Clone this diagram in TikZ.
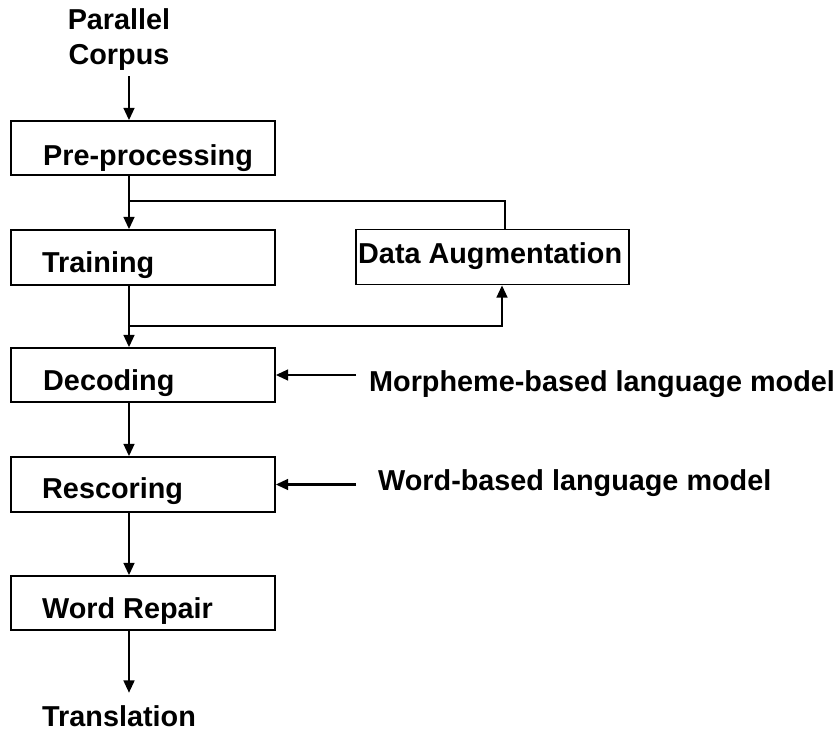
\documentclass[tikz,border=0pt]{standalone}
\usepackage{fontspec}
\setmainfont{Liberation Sans}
\usetikzlibrary{arrows.meta,calc}
\tikzset{
  stagebox/.style={draw=black, line width=1.3pt, inner sep=0pt, minimum width=264pt},
  lbl/.style={inner sep=0pt, anchor=base west, font=\fontsize{28.8}{35}\selectfont\bfseries},
  link/.style={line width=2.9pt},
  arr/.style={link, -{Triangle[width=10.5pt,length=12.5pt]}}
}
\begin{document}
\begin{tikzpicture}[x=1pt,y=-1pt]
\useasboundingbox (0,0) rectangle (840,731);
\fill[white] (0,0) rectangle (840,731);
\coordinate (sp) at (129,0);
% boxes
\node[stagebox, minimum height=54pt] (pre)  at (143,148) {};
\node[stagebox, minimum height=55pt] (train) at (143,257.5) {};
\node[stagebox, minimum height=55pt, minimum width=273pt] (aug) at (492.5,257) {};
\node[stagebox, minimum height=54pt] (dec)  at (143,375) {};
\node[stagebox, minimum height=55pt] (resc) at (143,484.5) {};
\node[stagebox, minimum height=54pt] (wrep) at (143,603) {};
% texts
\node[inner sep=0pt, align=center, font=\fontsize{28.8}{35}\selectfont\bfseries] (corpus) at (119,40) {Parallel\\Corpus};
\node[lbl] (tpre) at (43,165) {Pre-processing};
\node[lbl] (ttrain) at (42,272) {Training};
\node[lbl] (taug) at (358,263) {Data Augmentation};
\node[lbl] (tdec) at (43,390) {Decoding};
\node[lbl] (tresc) at (42,498) {Rescoring};
\node[lbl] (twrep) at (42,618) {Word Repair};
\node[lbl] (trans) at (42,726) {Translation};
\node[lbl] (morph) at (369,391) {Morpheme-based language model};
\node[lbl] (wordlm) at (378,490) {Word-based language model};
% connectors
\coordinate (j1) at (129,201);
\coordinate (j2) at (129,326);
\draw[arr] ([yshift=-5pt]sp |- corpus.south) -- (sp |- pre.north);
\draw[arr] (sp |- pre.south) -- (sp |- train.north);
\draw[link] (j1) -| ([xshift=12.5pt]aug.north);
\draw[arr] (sp |- train.south) -- (sp |- dec.north);
\draw[arr] (j2) -| ([xshift=9.5pt]aug.south);
\draw[arr] (sp |- dec.south) -- (sp |- resc.north);
\draw[arr] (sp |- resc.south) -- (sp |- wrep.north);
\draw[arr] (sp |- wrep.south) -- ([yshift=12pt]sp |- trans.north);
\draw[arr] ($(dec.east -| morph.west)+(-13,0)$) -- (dec.east);
\draw[arr] ($(resc.east -| wordlm.west)+(-22,0)$) -- (resc.east);
\end{tikzpicture}
\end{document}
